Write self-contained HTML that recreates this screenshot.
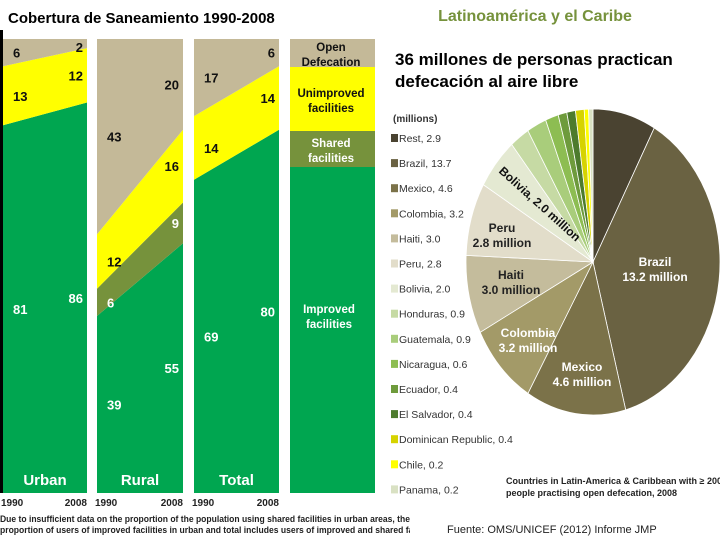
<!DOCTYPE html>
<html><head><meta charset="utf-8">
<style>
body{margin:0;width:720px;height:540px;overflow:hidden;background:#fff;font-family:"Liberation Sans",sans-serif;}
svg{display:block}
text{font-family:"Liberation Sans",sans-serif}
</style></head>
<body>
<svg id="c" width="720" height="540" viewBox="0 0 720 540">
<defs><clipPath id="fnclip"><rect x="0" y="505" width="410" height="35"/></clipPath></defs>
<rect x="0" y="30" width="3" height="463" fill="#000"/>
<text x="8" y="23" font-size="15" font-weight="bold" fill="#000">Cobertura de Saneamiento 1990-2008</text>
<text x="535" y="21" font-size="16" font-weight="bold" fill="#76923c" text-anchor="middle">Latinoamérica y el Caribe</text>
<text x="395" y="65" font-size="17" font-weight="bold" fill="#000">36 millones de personas practican</text>
<text x="395" y="87" font-size="17" font-weight="bold" fill="#000">defecación al aire libre</text>
<g id="areas"></g>
<g id="pie"></g>
<g id="legend"></g>
<g clip-path="url(#fnclip)">
<text x="0" y="522" font-size="9.5" font-weight="bold" fill="#222" textLength="410" lengthAdjust="spacingAndGlyphs">Due to insufficient data on the proportion of the population using shared facilities in urban areas, the</text>
<text x="0" y="533" font-size="9.5" font-weight="bold" fill="#222" textLength="440" lengthAdjust="spacingAndGlyphs">proportion of users of improved facilities in urban and total includes users of improved and shared facilities</text>
</g>
<text x="506" y="484" font-size="9" font-weight="bold" fill="#222">Countries in Latin-America &amp; Caribbean with ≥ 200,000</text>
<text x="506" y="496" font-size="9" font-weight="bold" fill="#222">people practising open defecation, 2008</text>
<text x="447" y="533" font-size="11" fill="#222">Fuente: OMS/UNICEF  (2012) Informe JMP</text>
</svg>
<script>
// ---- stacked area data (bottom to top: improved, shared, unimproved, open defecation)
const panels = ["Urban","Rural","Total"];
const improved1990 = [81,39,69];
const improved2008 = [86,55,80];
const shared1990 = [0,6,0];
const shared2008 = [0,9,0];
const unimproved1990 = [13,12,14];
const unimproved2008 = [12,16,14];
const openDef1990 = [6,43,17];
const openDef2008 = [2,20,6];
const years = ["1990","2008"];

const NS="http://www.w3.org/2000/svg";
function mk(tag,attrs,parent){const e=document.createElementNS(NS,tag);for(const k in attrs)e.setAttribute(k,attrs[k]);parent.appendChild(e);return e;}
const top0=39, bot0=493, H=bot0-top0;
const yS=v=>bot0-v/100*H;
const panelX=[3,97,194], panelW=[84,86,85];
const colors=["#00a650","#76923c","#ffff00","#c4b998"];
const names=["improved","shared","unimproved","open-defecation"];
const areas=document.getElementById('areas');
panels.forEach((p,i)=>{
  const a=[improved1990[i],shared1990[i],unimproved1990[i],openDef1990[i]];
  const b=[improved2008[i],shared2008[i],unimproved2008[i],openDef2008[i]];
  let ca=0,cb=0;
  const x0=panelX[i],x1=panelX[i]+panelW[i];
  for(let k=0;k<4;k++){
    const na=ca+a[k],nb=cb+b[k];
    if(a[k]>0||b[k]>0){
      const el=mk('polygon',{points:`${x0},${yS(ca)} ${x1},${yS(cb)} ${x1},${yS(nb)} ${x0},${yS(na)}`,fill:colors[k]},areas);
      
      
      const dark=k>=2;
      if(a[k]>0){const t=mk('text',{x:x0+10,y:(yS(ca)+yS(na))/2+5,'font-size':13,'font-weight':'bold',fill:dark?'#111':'#fff'},areas);t.textContent=a[k];
        
        }
      if(b[k]>0){const t=mk('text',{x:x1-4,y:Math.max((yS(cb)+yS(nb))/2+5,52),'font-size':13,'font-weight':'bold','text-anchor':'end',fill:dark?'#111':'#fff'},areas);t.textContent=b[k];
        
        }
    }
    ca=na;cb=nb;
  }
  const t=mk('text',{x:(x0+x1)/2,y:485,'font-size':15,'font-weight':'bold',fill:'#fff','text-anchor':'middle'},areas);t.textContent=p;
  
  
  years.forEach((yv,j)=>{const y=mk('text',{x:j?x1:x0-2,y:506,'font-size':10,'font-weight':'bold',fill:'#222','text-anchor':j?'end':'start'},areas);y.textContent=yv;
    
    });
});
// legend column
const legBands=[[39,67,"#c4b998",["Open","Defecation"],"#111"],[67,131,"#ffff00",["Unimproved","facilities"],"#111"],[131,167,"#76923c",["Shared","facilities"],"#fff"],[167,493,"#00a650",null,"#fff"]];
legBands.forEach((b,i)=>{const r=mk('rect',{x:290,y:b[0],width:85,height:b[1]-b[0],fill:b[2]},areas);
  
  
  if(b[3]){b[3].forEach((s,j)=>{const t=mk('text',{x:331,y:b[0]+(b[1]-b[0])/2+2+j*15-(b[3].length-1)*4,'font-size':11.5,'font-weight':'bold',fill:b[4],'text-anchor':'middle'},areas);t.textContent=s;
    
    });}
});
["Improved","facilities"].forEach((s,j)=>{const t=mk('text',{x:329,y:313+j*15,'font-size':11.5,'font-weight':'bold',fill:'#fff','text-anchor':'middle'},areas);t.textContent=s;
  
  });

// ---- pie data
const countries=["Rest","Brazil","Mexico","Colombia","Haiti","Peru","Bolivia","Honduras","Guatemala","Nicaragua","Ecuador","El Salvador","Dominican Republic","Chile","Panama"];
const millions=[2.9,13.7,4.6,3.2,3.0,2.8,2.0,0.9,0.9,0.6,0.4,0.4,0.4,0.2,0.2];
const legendValues=["2.9","13.7","4.6","3.2","3.0","2.8","2.0","0.9","0.9","0.6","0.4","0.4","0.4","0.2","0.2"];
const sliceColors=["#4a4331","#6a6242","#7b7249","#a39a68","#c4bc9c","#e2ddca","#e4e9d2","#c6daa4","#a9cd7b","#8dbd52","#6e9b3c","#4d7b2d","#d6d300","#ffff00","#d9e1c3"];
const cx=593,cy=262,rx=127,ry=153;
const pie=document.getElementById('pie');
const total=millions.reduce((s,v)=>s+v,0);
let ang=0;
const pt=a=>[cx+rx*Math.sin(a),cy-ry*Math.cos(a)];
millions.forEach((v,i)=>{
  const a0=ang,a1=ang+v/total*2*Math.PI;ang=a1;
  const p0=pt(a0),p1=pt(a1);
  const s=mk('path',{d:`M${cx},${cy}L${p0[0]},${p0[1]}A${rx},${ry} 0 ${a1-a0>Math.PI?1:0} 1 ${p1[0]},${p1[1]}Z`,fill:sliceColors[i],stroke:'#fff','stroke-width':0.8},pie);
  
  
});
const pieLabels=[["Brazil","13.2 million",655,266,"#fff"],["Mexico","4.6 million",582,371,"#fff"],["Colombia","3.2 million",528,337,"#fff"],["Haiti","3.0 million",511,279,"#222"],["Peru","2.8 million",502,232,"#222"]];
pieLabels.forEach(l=>{[l[0],l[1]].forEach((s,j)=>{const t=mk('text',{x:l[2],y:l[3]+j*15,'font-size':12,'font-weight':'bold',fill:l[4],'text-anchor':'middle'},pie);t.textContent=s;
  
  });});
const bl=mk('text',{x:537,y:207,'font-size':12,'font-weight':'bold',fill:'#111','text-anchor':'middle',transform:'rotate(42 537 207)'},pie);bl.textContent="Bolivia, 2.0 million";


// legend
const leg=document.getElementById('legend');
const lt=mk('text',{x:393,y:122,'font-size':10,'font-weight':'bold',fill:'#333'},leg);lt.textContent="(millions)";


countries.forEach((c,i)=>{const y=138+i*25.1;
  const r=mk('rect',{x:391,y:y-4,width:7,height:8,fill:sliceColors[i]},leg);
  
  
  const t=mk('text',{x:399,y:y+4,'font-size':10.5,fill:'#333'},leg);t.textContent=c+", "+legendValues[i];
  
  
});
</script>
</body></html>
